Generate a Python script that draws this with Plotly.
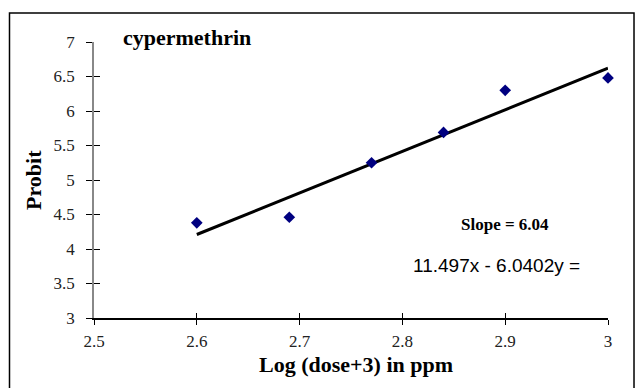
import plotly.graph_objects as go

# Data
log_dose = [2.6, 2.69, 2.77, 2.84, 2.9, 3.0]
probit = [4.38, 4.46, 5.25, 5.69, 6.30, 6.48]
trend_x = [2.6, 3.0]
trend_y = [4.21, 6.62]
x_ticks = [2.5, 2.6, 2.7, 2.8, 2.9, 3.0]
x_tick_text = ["2.5", "2.6", "2.7", "2.8", "2.9", "3"]
y_ticks = [3, 3.5, 4, 4.5, 5, 5.5, 6, 6.5, 7]
y_tick_text = ["3", "3.5", "4", "4.5", "5", "5.5", "6", "6.5", "7"]

SERIF = "Liberation Serif"
SANS = "Liberation Sans"

fig = go.Figure()
fig.add_trace(go.Scatter(x=trend_x, y=trend_y, mode="lines",
                         line=dict(color="black", width=3), showlegend=False))
fig.add_trace(go.Scatter(x=log_dose, y=probit, mode="markers",
                         marker=dict(symbol="diamond", color="#000080", size=9),
                         showlegend=False, cliponaxis=False))
# invisible trace on the overlay axes (used only for the inward tick halves)
fig.add_trace(go.Scatter(x=[x_ticks[0]], y=[y_ticks[0]], xaxis="x2", yaxis="y2",
                         mode="markers", marker=dict(opacity=0),
                         showlegend=False, hoverinfo="skip"))

fig.update_layout(
    width=635, height=388,
    margin=dict(l=94, r=27, t=42, b=70),
    paper_bgcolor="white", plot_bgcolor="white",
    xaxis=dict(range=[2.5, 3.0], tickvals=x_ticks, ticktext=x_tick_text,
               showgrid=False, zeroline=False, showline=True, linecolor="black",
               linewidth=1.5, ticks="outside", ticklen=5, tickcolor="black",
               ticklabelstandoff=2,
               tickfont=dict(family=SERIF, size=17, color="#222")),
    yaxis=dict(range=[3, 7], tickvals=y_ticks, ticktext=y_tick_text,
               showgrid=False, zeroline=False, showline=True, linecolor="#888",
               linewidth=1.5, ticks="outside", ticklen=6, tickcolor="black",
               ticklabelstandoff=8,
               tickfont=dict(family=SERIF, size=17, color="#222")),
    xaxis2=dict(range=[2.5, 3.0], tickvals=x_ticks, overlaying="x",
                showticklabels=False, showgrid=False, zeroline=False, showline=False,
                ticks="inside", ticklen=5, tickcolor="black", side="bottom"),
    yaxis2=dict(range=[3, 7], tickvals=y_ticks, overlaying="y",
                showticklabels=False, showgrid=False, zeroline=False, showline=False,
                ticks="inside", ticklen=6, tickcolor="black", side="left"),
    shapes=[dict(type="rect", xref="paper", yref="paper", layer="above",
                 x0=-0.1644, x1=1.0506, y0=-0.26, y1=1.105,
                 line=dict(color="black", width=1.5))],
    annotations=[
        dict(text="<b>cypermethrin</b>", xref="paper", yref="paper",
             x=0.0525, y=1.0145, xanchor="left", yanchor="middle",
             showarrow=False, font=dict(family=SERIF, size=22, color="black")),
        dict(text="<b>Slope = 6.04</b>", xref="paper", yref="paper",
             x=0.710, y=0.337, xanchor="left", yanchor="middle",
             showarrow=False, font=dict(family=SERIF, size=17, color="black")),
        dict(text="11.497x - 6.0402y =", xref="paper", yref="paper",
             x=0.616, y=0.192, xanchor="left", yanchor="middle",
             showarrow=False, font=dict(family=SANS, size=19, color="black")),
        dict(text="<b>Log (dose+3) in ppm</b>", xref="paper", yref="paper",
             x=0.51, y=-0.1667, xanchor="center", yanchor="middle",
             showarrow=False, font=dict(family=SERIF, size=22, color="black")),
        dict(text="<b>Probit</b>", xref="paper", yref="paper",
             x=-0.1187, y=0.5, xanchor="center", yanchor="middle", textangle=-90,
             showarrow=False, font=dict(family=SERIF, size=22, color="black")),
    ],
)

fig.write_html("out.html", config={"displayModeBar": False},
               post_script="document.body.style.margin='0';document.body.style.padding='0';")
